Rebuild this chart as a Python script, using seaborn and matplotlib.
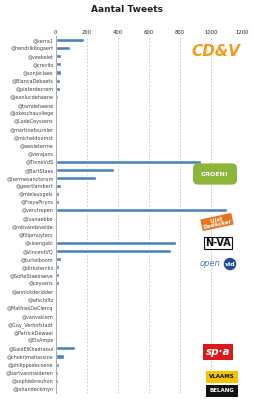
import matplotlib
matplotlib.use("Agg")
import matplotlib.pyplot as plt
import seaborn as sns
import pandas as pd

names = ["@kerra1", "@hendrikbogaert", "@veekelet", "@crevits", "@sonjaclaes",
         "@BiancaDebaets", "@pieterdecrem", "@jeanlucdehaene", "@tomdehaene",
         "@jokeschauvliege", "@LodeCeyssens", "@martinefournier", "@micheldoomst",
         "@wesleterme", "@verajans", "@TinneVdS", "@BartStaes", "@hermesanctorum",
         "@geertlambert", "@mielevogels", "@FreyaPiryns", "@verstrepen",
         "@ivanaebbe", "@robvandevelde", "@filipmuyters", "@sioengabi",
         "@VincentVQ", "@turtelboom", "@dirksterckx", "@SofieStaelraeve",
         "@ceysens", "@annickderidder", "@wfschiltz", "@MathiasDeClercq",
         "@vanvalcem", "@Guy_Verhofstadt", "@PatrickDewael", "@ElsAmpe",
         "@SaidElKhadraoui", "@chokrimahassine", "@philippedecoene",
         "@bartvanmalderen", "@sophiebrouhon", "@johandeckmyn"]
tweets = [185, 90, 36, 36, 34, 30, 27, 15, 12, 12, 8, 0, 1, 0, 0,
          935, 377, 261, 36, 21, 19, 1102, 8, 2, 1, 772, 742, 34, 23, 23,
          23, 12, 10, 5, 1, 0, 0, 0, 126, 51, 19, 17, 15, 1]
xticks = [0, 200, 400, 600, 800, 1000, 1200]

df = pd.DataFrame({"name": names, "tweets": tweets})

sns.set_theme(style="white")
fig = plt.figure(figsize=(2.55, 4.0), dpi=100)
ax = fig.add_axes([0.218, 0.0175, 0.731, 0.8925])

sns.barplot(data=df, y="name", x="tweets", orient="h", color="#4F81BD",
            saturation=1, width=0.5, ax=ax)

ax.set_xlim(0, 1200)
ax.set_xticks(xticks)
ax.xaxis.tick_top()
ax.tick_params(axis="x", labelsize=3.8, pad=1, length=0)
ax.tick_params(axis="y", labelsize=3.5, pad=1.5, length=0)
for lab in ax.get_yticklabels():
    lab.set_color("#404040")
ax.set_xlabel("")
ax.set_ylabel("")
ax.grid(axis="x", color="#BFBFBF", linestyle=(0, (2, 2)), linewidth=0.6)
ax.set_axisbelow(True)
for s in ["top", "right", "bottom"]:
    ax.spines[s].set_visible(False)
ax.spines["left"].set_color("#A0A0A0")
ax.spines["left"].set_linewidth(0.6)

fig.text(0.5, 0.975, "Aantal Tweets", ha="center", va="center",
         fontsize=6.5, fontweight="bold", color="#222222")

def px(x, y):
    return x / 255, 1 - y / 400

# CD&V
fig.text(*px(216, 52), "CD&V", ha="center", va="center", fontsize=11,
         fontweight="bold", style="italic", color="#F39A1E")
# Groen
fig.text(*px(215, 174), "GROEN!", ha="center", va="center", fontsize=4.5,
         fontweight="bold", color="white",
         bbox=dict(boxstyle="round,pad=1.3,rounding_size=0.8", fc="#8DB53C", ec="none"))
# Lijst Dedecker
fig.text(*px(217, 222), "Lijst\nDedecker", ha="center", va="center", fontsize=4,
         fontweight="bold", color="white", linespacing=0.9, rotation=12,
         bbox=dict(boxstyle="square,pad=0.2", fc="#E8731A", ec="none"))
# N-VA
fig.text(*px(218, 243), "N-VA", ha="center", va="center", fontsize=7,
         fontweight="bold", color="#111111",
         bbox=dict(boxstyle="square,pad=0.15", fc="white", ec="#111111", lw=0.8))
# open vld
fig.text(*px(210, 264), "open", ha="center", va="center", fontsize=6,
         style="italic", color="#4A78B8")
fig.text(*px(230, 264), "vld", ha="center", va="center", fontsize=4.5,
         fontweight="bold", color="white",
         bbox=dict(boxstyle="circle,pad=0.15", fc="#1F4E96", ec="none"))
# sp.a
fig.text(*px(218, 352), "sp·a", ha="center", va="center", fontsize=7.5,
         fontweight="bold", style="italic", color="white",
         bbox=dict(boxstyle="square,pad=0.25", fc="#D9191C", ec="none"))
# Vlaams Belang
fig.text(*px(222, 377), "VLAAMS", ha="center", va="center", fontsize=4,
         fontweight="bold", color="#111111",
         bbox=dict(boxstyle="square,pad=0.6", fc="#F5C400", ec="none"))
fig.text(*px(222, 391), "BELANG", ha="center", va="center", fontsize=4,
         fontweight="bold", color="white",
         bbox=dict(boxstyle="square,pad=0.6", fc="#111111", ec="none"))

fig.savefig("out.png", dpi=100)
